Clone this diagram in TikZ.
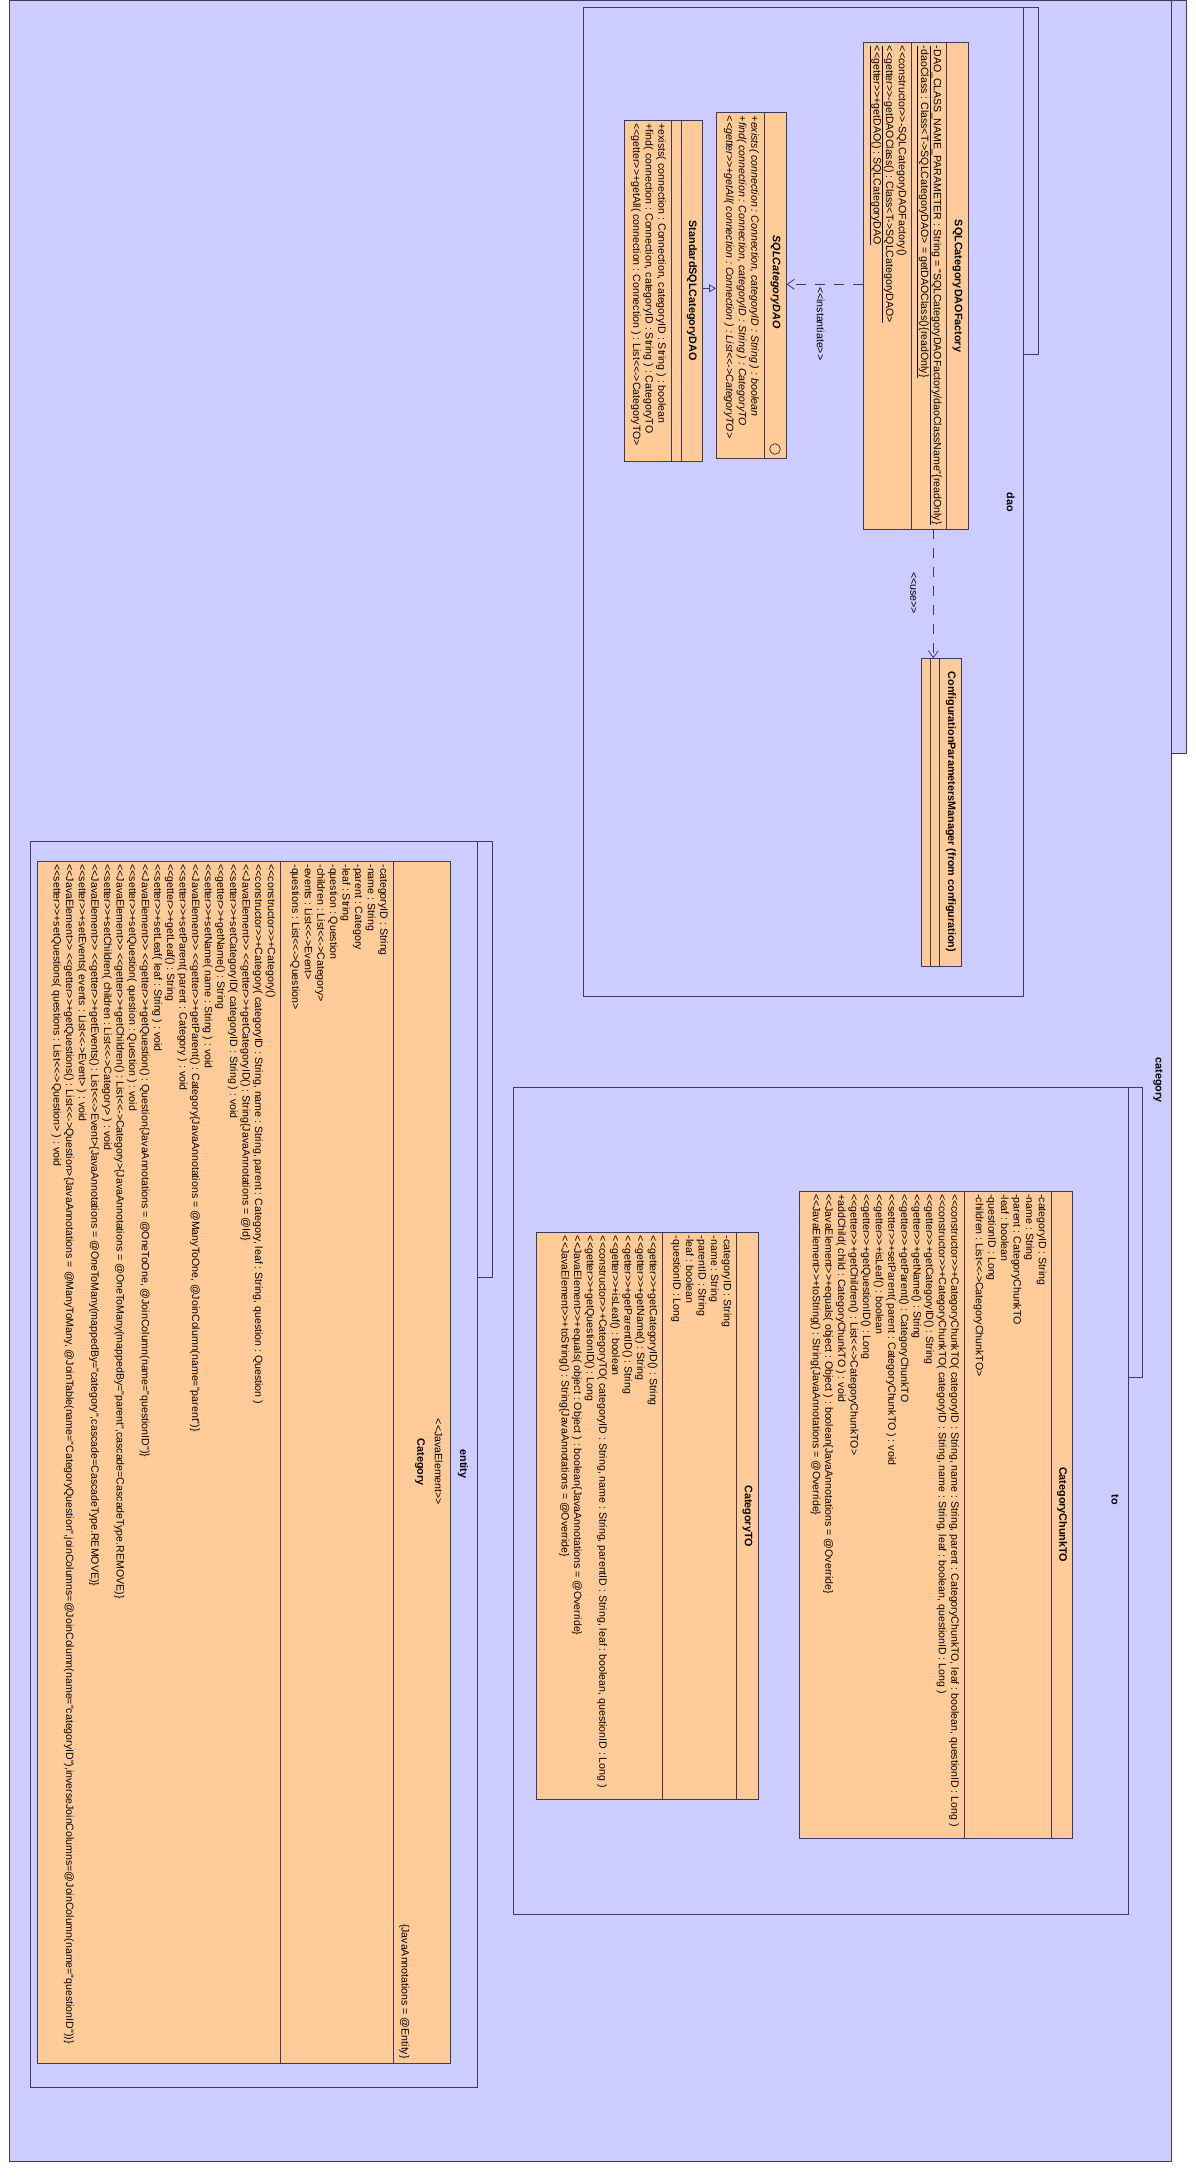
\documentclass[tikz,border=0pt]{standalone}
\usepackage{fontspec}
\setmonofont{Liberation Sans}
\usetikzlibrary{arrows.meta}
\definecolor{bg}{RGB}{204,204,255}
\definecolor{cls}{RGB}{255,204,153}
\definecolor{ln}{RGB}{60,60,90}
\newcommand{\umltxt}{\ttfamily\fontsize{10.6}{12.6}\selectfont}
\newcommand{\umlbold}{\ttfamily\bfseries\fontsize{10.8}{12.6}\selectfont}
\begin{document}
\begin{tikzpicture}[x=1pt,y=-1pt,
  pkg/.style={draw=ln, fill=bg, line width=0.8pt},
  box/.style={draw=ln, fill=cls, line width=0.8pt, inner sep=0pt, outer sep=0pt, anchor=north west},
  sepline/.style={draw=ln, line width=0.8pt},
  txt/.style={rotate=-90, anchor=north west, inner sep=0pt, align=left, font=\umltxt},
  ttl/.style={rotate=-90, anchor=center, inner sep=0pt, align=center, font=\umlbold},
  lbl/.style={rotate=-90, inner sep=0pt, font=\umltxt},
  dep/.style={draw=ln, line width=0.8pt, dash pattern=on 10pt off 9pt, -{Straight Barb[length=7pt,width=10pt,line width=0.8pt]}},
  real/.style={draw=ln, line width=0.8pt, -{Triangle[open,length=7pt,width=8pt,fill=bg,line width=0.8pt]}},
]
\useasboundingbox (0,0) rectangle (1196,2179);
\fill[white] (0,0) rectangle (1196,2179);

% ---------- outer package: category ----------
\draw[pkg] (1171,0.5) rectangle (1186,753);
\draw[pkg] (9,0.5) rectangle (1171,2161);
\node[ttl, font=\umlbold] (lcategory) at (1158,1080) {category};

% ---------- package dao ----------
\draw[pkg] (1023.6,7.5) rectangle (1038,354);
\draw[pkg] (583.5,7.5) rectangle (1023.6,996);
\node[ttl] (ldao) at (1010.7,502) {dao};

% ---------- package entity ----------
\draw[pkg] (477.5,841) rectangle (492,1277.5);
\draw[pkg] (30.5,841) rectangle (477.5,2087);
\node[ttl] (lentity) at (463,1464) {entity};

% ---------- package to ----------
\draw[pkg] (1128,1087.5) rectangle (1142.6,1377.6);
\draw[pkg] (513.3,1087.5) rectangle (1128,1914);
\node[ttl] (lto) at (1115,1500) {to};

% ---------- SQLCategoryDAOFactory ----------
\node[box, minimum width=105.3pt, minimum height=486.3pt] (fac) at (863,42.7) {};
\draw[sepline] (946.7,42.7) -- (946.7,529);
\draw[sepline] (911.7,42.7) -- (911.7,529);
\node[ttl] (facname) at (957.5,286) {SQLCategoryDAOFactory};
\node[txt] (facattr) at (941.7,45.7) {\underline{-DAO\_CLASS\_NAME\_PARAMETER : String = "SQLCategoryDAOFactory/daoClassName"\{readOnly\}}\\
\underline{-daoClass : Class<T->SQLCategoryDAO> = getDAOClass()\{readOnly\}}};
\node[txt] (facops) at (906.7,45.7) {<<constructor>>-SQLCategoryDAOFactory()\\
\underline{<<getter>>-getDAOClass() : Class<T->SQLCategoryDAO>}\\
\underline{<<getter>>+getDAO() : SQLCategoryDAO}};

% ---------- SQLCategoryDAO (interface) ----------
\node[box, minimum width=70.7pt, minimum height=345.6pt] (sqldao) at (716,112.7) {};
\draw[sepline] (764.3,112.7) -- (764.3,458.3);
\node[ttl, font=\umlbold\itshape] (sqldaoname) at (775.5,282) {SQLCategoryDAO};
\draw[draw=ln, line width=0.8pt] (775,449) circle (5.3);
\node[txt, font=\umltxt\itshape] (sqldaoops) at (759.3,115.7) {+exists( connection : Connection, categoryID : String ) : boolean\\
+find( connection : Connection, categoryID : String ) : CategoryTO\\
<<getter>>+getAll( connection : Connection ) : List<<->CategoryTO>};

% ---------- StandardSQLCategoryDAO ----------
\node[box, minimum width=78.5pt, minimum height=340.7pt] (std) at (624,120.3) {};
\draw[sepline] (681.2,120.3) -- (681.2,461);
\draw[sepline] (671.2,120.3) -- (671.2,461);
\node[ttl] (stdname) at (691.8,290.7) {StandardSQLCategoryDAO};
\node[txt] (stdops) at (666.2,123.3) {+exists( connection : Connection, categoryID : String ) : boolean\\
+find( connection : Connection, categoryID : String ) : CategoryTO\\
<<getter>>+getAll( connection : Connection ) : List<<->CategoryTO>};

% ---------- ConfigurationParametersManager ----------
\node[box, minimum width=40pt, minimum height=307.7pt] (cfg) at (921.3,658.3) {};
\draw[sepline] (939.3,658.3) -- (939.3,966);
\draw[sepline] (930.7,658.3) -- (930.7,966);
\node[ttl] (cfgname) at (950.8,812) {ConfigurationParametersManager (from configuration)};

% ---------- connectors in dao ----------
\coordinate (iy) at (0,284.3);
\coordinate (ry) at (0,288.3);
\coordinate (ux) at (933.3,0);
\draw[dep] (fac.west |- iy) -- (sqldao.east |- iy);
\node[lbl, anchor=west] (instlbl) at (820.7,287) {<<instantiate>>};
\draw[real] (std.east |- ry) -- (sqldao.west |- ry);
\draw[dep] (fac.south -| ux) -- (cfg.north -| ux);
\node[lbl, anchor=west] (uselbl) at (913.3,572) {<<use>>};

% ---------- Category (entity) ----------
\node[box, minimum width=413.4pt, minimum height=1201.7pt] (cat) at (37.3,861.3) {};
\draw[sepline] (393.3,861.3) -- (393.3,2063);
\draw[sepline] (280.7,861.3) -- (280.7,2063);
\node[lbl, font=\umltxt] (catst) at (438.6,1462) {<<JavaElement>>};
\node[ttl] (catname) at (420,1462) {Category};
\node[lbl, anchor=east] (catann) at (404.3,2059) {\{JavaAnnotations = @Entity\}};
\node[txt] (catattr) at (388.3,864.3) {-categoryID : String\\
-name : String\\
-parent : Category\\
-leaf : String\\
-question : Question\\
-children : List<<->Category>\\
-events : List<<->Event>\\
-questions : List<<->Question>};
\node[txt] (catops) at (275.7,864.3) {<<constructor>>+Category()\\
<<constructor>>+Category( categoryID : String, name : String, parent : Category, leaf : String, question : Question )\\
<<JavaElement>> <<getter>>+getCategoryID() : String\{JavaAnnotations = @Id\}\\
<<setter>>+setCategoryID( categoryID : String ) : void\\
<<getter>>+getName() : String\\
<<setter>>+setName( name : String ) : void\\
<<JavaElement>> <<getter>>+getParent() : Category\{JavaAnnotations = @ManyToOne, @JoinColumn(name="parent")\}\\
<<setter>>+setParent( parent : Category ) : void\\
<<getter>>+getLeaf() : String\\
<<setter>>+setLeaf( leaf : String ) : void\\
<<JavaElement>> <<getter>>+getQuestion() : Question\{JavaAnnotations = @OneToOne, @JoinColumn(name="questionID")\}\\
<<setter>>+setQuestion( question : Question ) : void\\
<<JavaElement>> <<getter>>+getChildren() : List<<->Category>\{JavaAnnotations = @OneToMany(mappedBy="parent",cascade=CascadeType.REMOVE)\}\\
<<setter>>+setChildren( children : List<<->Category> ) : void\\
<<JavaElement>> <<getter>>+getEvents() : List<<->Event>\{JavaAnnotations = @OneToMany(mappedBy="category",cascade=CascadeType.REMOVE)\}\\
<<setter>>+setEvents( events : List<<->Event> ) : void\\
<<JavaElement>> <<getter>>+getQuestions() : List<<->Question>\{JavaAnnotations = @ManyToMany, @JoinTable(name="CategoryQuestion",joinColumns=@JoinColumn(name="categoryID"),inverseJoinColumns=@JoinColumn(name="questionID"))\}\\
<<setter>>+setQuestions( questions : List<<->Question> ) : void};

% ---------- CategoryChunkTO ----------
\node[box, minimum width=273.4pt, minimum height=647.4pt] (chunk) at (799.3,1191) {};
\draw[sepline] (1051.7,1191) -- (1051.7,1838.4);
\draw[sepline] (964.3,1191) -- (964.3,1838.4);
\node[ttl] (chunkname) at (1062.2,1514.7) {CategoryChunkTO};
\node[txt] (chunkattr) at (1046.7,1194) {-categoryID : String\\
-name : String\\
-parent : CategoryChunkTO\\
-leaf : boolean\\
-questionID : Long\\
-children : List<<->CategoryChunkTO>};
\node[txt] (chunkops) at (959.3,1194) {<<constructor>>+CategoryChunkTO( categoryID : String, name : String, parent : CategoryChunkTO, leaf : boolean, questionID : Long )\\
<<constructor>>+CategoryChunkTO( categoryID : String, name : String, leaf : boolean, questionID : Long )\\
<<getter>>+getCategoryID() : String\\
<<getter>>+getName() : String\\
<<getter>>+getParent() : CategoryChunkTO\\
<<setter>>+setParent( parent : CategoryChunkTO ) : void\\
<<getter>>+isLeaf() : boolean\\
<<getter>>+getQuestionID() : Long\\
<<getter>>+getChildren() : List<<->CategoryChunkTO>\\
+addChild( child : CategoryChunkTO ) : void\\
<<JavaElement>>+equals( object : Object ) : boolean\{JavaAnnotations = @Override\}\\
<<JavaElement>>+toString() : String\{JavaAnnotations = @Override\}};

% ---------- CategoryTO ----------
\node[box, minimum width=221.6pt, minimum height=566.9pt] (cto) at (536.7,1232.7) {};
\draw[sepline] (736.7,1232.7) -- (736.7,1799.6);
\draw[sepline] (662.7,1232.7) -- (662.7,1799.6);
\node[ttl] (ctoname) at (747.5,1516) {CategoryTO};
\node[txt] (ctoattr) at (731.7,1235.7) {-categoryID : String\\
-name : String\\
-parentID : String\\
-leaf : boolean\\
-questionID : Long};
\node[txt] (ctoops) at (657.7,1235.7) {<<getter>>+getCategoryID() : String\\
<<getter>>+getName() : String\\
<<getter>>+getParentID() : String\\
<<getter>>+isLeaf() : boolean\\
<<constructor>>+CategoryTO( categoryID : String, name : String, parentID : String, leaf : boolean, questionID : Long )\\
<<getter>>+getQuestionID() : Long\\
<<JavaElement>>+equals( object : Object ) : boolean\{JavaAnnotations = @Override\}\\
<<JavaElement>>+toString() : String\{JavaAnnotations = @Override\}};
\end{tikzpicture}
\end{document}
